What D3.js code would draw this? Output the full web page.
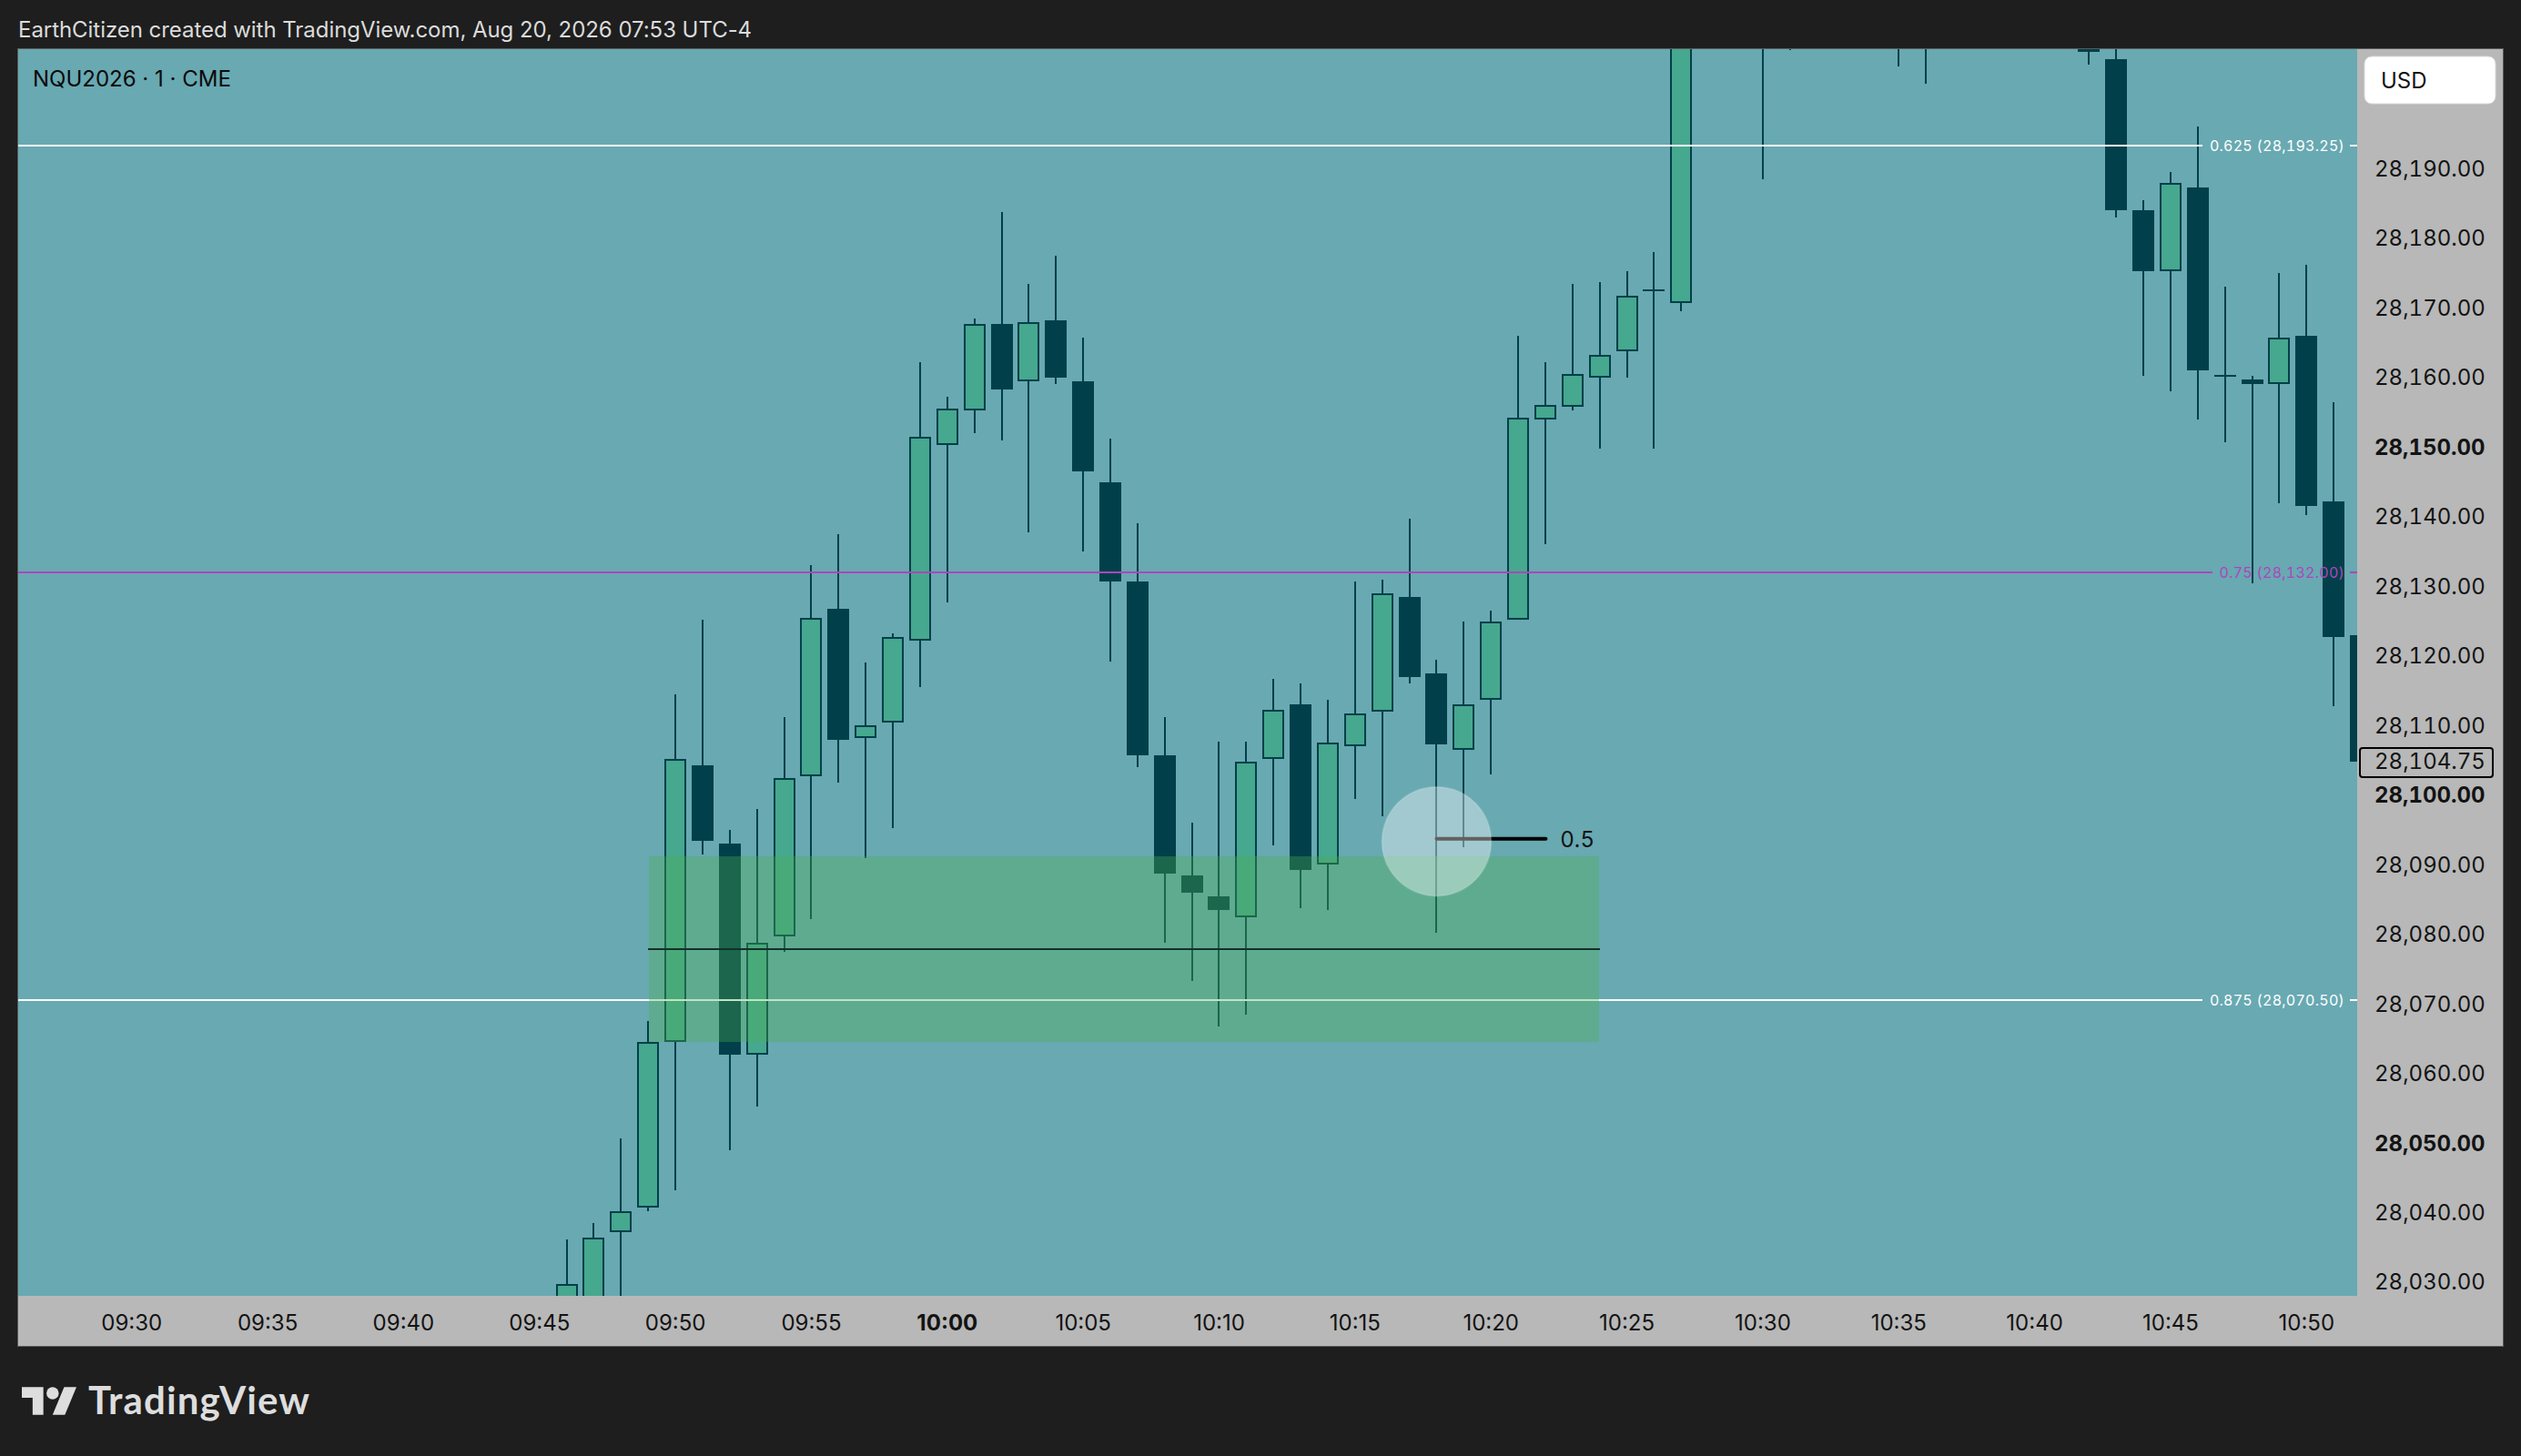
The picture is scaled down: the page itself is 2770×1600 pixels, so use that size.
<!DOCTYPE html>
<html>
<head>
<meta charset="utf-8">
<title>NQU2026 1 CME</title>
<script src="https://cdn.jsdelivr.net/npm/d3@7"></script>
<style>
  html, body { margin: 0; padding: 0; background: #1e1e1e; }
  svg { display: block; font-family: Inter, "Noto Sans", sans-serif; }
  .nums { font-variant-numeric: tabular-nums; }
</style>
</head>
<body>
<svg id="chart" width="2770" height="1600"></svg>
<script>
// one minute bars, 09:46 to 10:52
// bars from 10:13 on run above the top of the pane, their hidden ends are estimates
const barStart = "09:46";
const opens = [
  28022, 28024, 28037.25, 28040.75, 28064.5, 28104.25, 28093, 28062.75, 28079.75, 28102.75,
  28126.75, 28108.25, 28110.5, 28122.25, 28150.25, 28155.25, 28167.75, 28159.5, 28168.25, 28159.5,
  28145, 28130.75, 28105.75, 28088.5, 28085.5, 28082.5, 28105.25, 28113, 28090, 28107,
  28112, 28128.5, 28117.5, 28106.5, 28113.75, 28125.25, 28154, 28155.75, 28160, 28163.75,
  28172.5, 28170.75, 28225, 28228, 28222, 28226, 28231, 28236, 28238, 28233,
  28229, 28227, 28232, 28236, 28234, 28229, 28212, 28205.75, 28184, 28175.25,
  28187.25, 28160.25, 28159.75, 28159, 28166, 28142.25, 28123
];
const closes = [
  28029.75, 28036.5, 28040.25, 28064.5, 28105.25, 28093.5, 28062.75, 28078.75, 28102.5, 28125.5,
  28108, 28110, 28122.75, 28151.5, 28155.5, 28167.75, 28158.25, 28168, 28160, 28146.5,
  28130.75, 28105.75, 28088.75, 28086, 28083.5, 28104.75, 28112.25, 28089.25, 28107.5, 28111.75,
  28129, 28117, 28107.25, 28113, 28125, 28154.25, 28156, 28160.5, 28163.25, 28171.75,
  28172.5, 28225, 28228, 28222, 28226, 28231, 28236, 28238, 28233, 28229,
  28227, 28232, 28236, 28234, 28229, 28212, 28206.75, 28184, 28175.25, 28188,
  28161, 28160.25, 28159, 28165.75, 28141.5, 28122.75, 28104.75
];
const highs = [
  28036.25, 28038.5, 28050.75, 28067.5, 28114.5, 28125.25, 28095, 28098, 28111.25, 28133,
  28137.5, 28119, 28123.25, 28162.25, 28157.25, 28168.5, 28183.75, 28173.5, 28177.5, 28165.75,
  28151.25, 28139, 28111.25, 28096, 28107.75, 28107.75, 28116.75, 28116, 28113.75, 28130.75,
  28131, 28139.75, 28119.5, 28125, 28126.5, 28166, 28162.25, 28173.5, 28173.75, 28175.25,
  28178, 28228, 28232, 28230, 28232, 28236, 28240, 28241, 28238, 28235,
  28233, 28236, 28240, 28238, 28236, 28216, 28214, 28212, 28185.5, 28189.5,
  28196, 28173, 28160.25, 28175, 28176.25, 28156.5, 28123
];
const lows = [
  28019, 28022, 28024, 28040.25, 28043.25, 28091.5, 28049, 28055.25, 28077.5, 28082.25,
  28101.75, 28091, 28095.25, 28115.5, 28127.75, 28152, 28151, 28137.75, 28159, 28135,
  28119.25, 28104, 28078.75, 28073.25, 28066.75, 28068.5, 28092.75, 28083.75, 28083.5, 28099.5,
  28097, 28116, 28080.25, 28092.5, 28103, 28125.25, 28136, 28155.25, 28149.75, 28160,
  28149.75, 28169.5, 28222, 28218, 28188.5, 28207, 28224, 28228, 28226, 28204.75,
  28202.25, 28222, 28226, 28230, 28226, 28210, 28205, 28183, 28160.25, 28158,
  28154, 28150.75, 28130.5, 28142, 28140.25, 28112.75, 28104.75
];

const priceTicks = d3.range(28030, 28191, 10);
const boldPrices = [28050, 28100, 28150];
const timeTicks = [
  "09:30", "09:35", "09:40", "09:45", "09:50", "09:55", "10:00", "10:05", "10:10",
  "10:15", "10:20", "10:25", "10:30", "10:35", "10:40", "10:45", "10:50"
];
const boldTimes = ["10:00"];

const levelRatios = ["0.625", "0.75", "0.875"];
const levelPrices = [28193.25, 28132, 28070.5];
const levelColors = ["#ffffff", "#ab47bc", "#ffffff"];

const zoneTop = 28091.25;
const zoneBottom = 28064.5;
const zoneMid = 28077.875;
const zoneStart = "09:49";
const zoneEnd = "10:24";

const lastPrice = 28104.75;
const pointerTime = "10:18";
const pointerPrice = 28093.75;
const pointerLabel = "0.5";

const toMinutes = s => {
  const p = s.split(":");
  return +p[0] * 60 + +p[1];
};

const plot = { left: 20, right: 2590, top: 54, bottom: 1424 };
const axisRight = 2750;
const axisBottom = 1479;

const x = d3.scaleLinear().domain([565.825, 651.865]).range([plot.left, plot.right]);
const y = d3.scaleLinear().domain([28028.08, 28207.17]).range([plot.bottom, plot.top]);
const priceFormat = d3.format(",.2f");

const up = "#46a88f";
const dark = "#01404a";

const svg = d3.select("#chart");

svg.append("rect").attr("width", 2770).attr("height", 1600).attr("fill", "#1e1e1e");

// axis strips first, pane on top
svg.append("rect")
  .attr("x", plot.left).attr("y", plot.top)
  .attr("width", axisRight - plot.left).attr("height", axisBottom - plot.top)
  .attr("fill", "#b8b8b8");
svg.append("rect")
  .attr("x", plot.left).attr("y", plot.top)
  .attr("width", plot.right - plot.left).attr("height", plot.bottom - plot.top)
  .attr("fill", "#68a9b2");
svg.append("rect")
  .attr("x", plot.left - 0.5).attr("y", plot.top - 0.5)
  .attr("width", axisRight - plot.left + 1).attr("height", axisBottom - plot.top + 1)
  .attr("fill", "none")
  .attr("stroke", "#5a5a5a");

svg.append("clipPath").attr("id", "pane")
  .append("rect")
  .attr("x", plot.left).attr("y", plot.top)
  .attr("width", plot.right - plot.left).attr("height", plot.bottom - plot.top);

const pane = svg.append("g")
  .attr("clip-path", "url(#pane)")
  .attr("shape-rendering", "crispEdges");

const bars = opens.map((o, i) => ({
  minute: toMinutes(barStart) + i,
  open: o,
  close: closes[i],
  high: highs[i],
  low: lows[i]
}));

const barX = d => Math.round(x(d.minute));
const snap = v => Math.round(v);

pane.selectAll("line.wick")
  .data(bars)
  .enter()
  .append("line")
  .attr("class", "wick")
  .attr("x1", barX)
  .attr("x2", barX)
  .attr("y1", d => snap(y(d.high)))
  .attr("y2", d => snap(y(d.low)))
  .attr("stroke", dark)
  .attr("stroke-width", 2);

// doji get a flat tick, the rest a box
const isDoji = d => d.open === d.close;
const isUp = d => d.close > d.open;

pane.selectAll("line.doji")
  .data(bars.filter(isDoji))
  .enter()
  .append("line")
  .attr("class", "doji")
  .attr("x1", d => barX(d) - 12)
  .attr("x2", d => barX(d) + 12)
  .attr("y1", d => snap(y(d.close)))
  .attr("y2", d => snap(y(d.close)))
  .attr("stroke", dark)
  .attr("stroke-width", 2);

pane.selectAll("rect.body")
  .data(bars.filter(d => !isDoji(d)))
  .enter()
  .append("rect")
  .attr("class", "body")
  .attr("x", d => barX(d) - 11)
  .attr("width", 22)
  .attr("y", d => snap(y(Math.max(d.open, d.close))) + 1)
  .attr("height", d => snap(y(Math.min(d.open, d.close))) - snap(y(Math.max(d.open, d.close))) - 2)
  .attr("fill", d => (isUp(d) ? up : dark))
  .attr("stroke", dark)
  .attr("stroke-width", 2);

// fib levels with their labels in a gap at the right end
const levels = svg.append("g");
levelPrices.forEach((p, i) => {
  const yy = Math.round(y(p) - 0.25);
  const label = levels.append("text")
    .attr("class", "nums")
    .attr("x", 2576)
    .attr("y", yy)
    .attr("dy", "0.36em")
    .attr("text-anchor", "end")
    .attr("fill", levelColors[i])
    .style("font-size", "16px")
    .style("letter-spacing", "0.25px")
    .text(`${levelRatios[i]} (${priceFormat(p)})`);
  const start = label.node().getBBox().x;
  [[plot.left, start - 8], [2582, plot.right]].forEach(seg => {
    levels.insert("line", "text")
      .attr("x1", seg[0])
      .attr("x2", seg[1])
      .attr("y1", yy)
      .attr("y2", yy)
      .attr("stroke", levelColors[i])
      .attr("stroke-width", 2)
      .attr("shape-rendering", "crispEdges");
  });
});

// demand zone lies over candles and levels
svg.append("rect")
  .attr("x", x(toMinutes(zoneStart)) + 1)
  .attr("width", x(toMinutes(zoneEnd)) - x(toMinutes(zoneStart)) - 2)
  .attr("y", snap(y(zoneTop)))
  .attr("height", snap(y(zoneBottom)) - snap(y(zoneTop)))
  .attr("fill", "rgb(76,175,80)")
  .attr("fill-opacity", 0.35)
  .attr("shape-rendering", "crispEdges");
svg.append("line")
  .attr("x1", x(toMinutes(zoneStart)))
  .attr("x2", x(toMinutes(zoneEnd)))
  .attr("y1", snap(y(zoneMid)))
  .attr("y2", snap(y(zoneMid)))
  .attr("stroke", "#14302a")
  .attr("stroke-width", 2)
  .attr("shape-rendering", "crispEdges");

// pointer with value tag
const px = x(toMinutes(pointerTime));
svg.append("line")
  .attr("x1", px)
  .attr("x2", px + 120)
  .attr("y1", y(pointerPrice))
  .attr("y2", y(pointerPrice))
  .attr("stroke", "#000")
  .attr("stroke-width", 4)
  .attr("stroke-linecap", "round");
svg.append("text")
  .attr("x", px + 136)
  .attr("y", y(pointerPrice) + 1)
  .attr("dy", "0.36em")
  .attr("fill", "#131313")
  .style("font-size", "24px")
  .style("letter-spacing", "0.6px")
  .text(pointerLabel);
svg.append("circle")
  .attr("cx", px)
  .attr("cy", y(pointerPrice) + 3)
  .attr("r", 60)
  .attr("fill", "#fff")
  .attr("fill-opacity", 0.38)
  .attr("stroke", "#fff")
  .attr("stroke-opacity", 0.15)
  .attr("stroke-width", 2);

// price axis
const yAxis = svg.append("g")
  .attr("transform", `translate(${plot.right + 19},0)`)
  .call(d3.axisRight(y).tickValues(priceTicks).tickSize(0).tickPadding(0).tickFormat(priceFormat));
yAxis.select(".domain").remove();
yAxis.selectAll("text")
  .attr("class", "nums")
  .attr("dy", "0.32em")
  .attr("fill", "#131313")
  .style("font-family", "Inter")
  .style("font-size", "24px")
  .style("font-weight", d => (boldPrices.includes(d) ? 700 : 400));

// last price box
svg.append("rect")
  .attr("x", 2593).attr("y", y(lastPrice) - 15.5)
  .attr("width", 146).attr("height", 32)
  .attr("rx", 3)
  .attr("fill", "#b8b8b8")
  .attr("stroke", "#000")
  .attr("stroke-width", 2);
svg.append("text")
  .attr("class", "nums")
  .attr("x", plot.right + 19)
  .attr("y", y(lastPrice))
  .attr("dy", "0.32em")
  .attr("fill", "#131313")
  .style("font-size", "24px")
  .text(priceFormat(lastPrice));

// time axis
const xAxis = svg.append("g")
  .attr("transform", `translate(-0.5,${plot.bottom})`)
  .call(d3.axisBottom(x).tickValues(timeTicks.map(toMinutes)).tickSize(0).tickPadding(0)
    .tickFormat(m => timeTicks[timeTicks.map(toMinutes).indexOf(m)]));
xAxis.select(".domain").remove();
xAxis.selectAll("text")
  .attr("y", 29)
  .attr("dy", "0.36em")
  .attr("fill", "#131313")
  .style("font-family", "Inter")
  .style("font-size", "24px")
  .style("font-weight", m => (boldTimes.map(toMinutes).includes(m) ? 700 : 400));

// currency button
svg.append("rect")
  .attr("x", 2598).attr("y", 62)
  .attr("width", 144).attr("height", 52)
  .attr("rx", 8)
  .attr("fill", "#fff")
  .attr("stroke", "#d9d9d9");
svg.append("text")
  .attr("x", 2616).attr("y", 88)
  .attr("dy", "0.36em")
  .attr("fill", "#131313")
  .style("font-size", "24px")
  .text("USD");

// header and symbol
svg.append("text")
  .attr("x", 20).attr("y", 32)
  .attr("dy", "0.36em")
  .attr("fill", "#dbdbdb")
  .style("font-size", "24px")
  .style("letter-spacing", "-0.05px")
  .text("EarthCitizen created with TradingView.com, Aug 20, 2026 07:53 UTC-4");
svg.append("text")
  .attr("x", 36).attr("y", 86)
  .attr("dy", "0.36em")
  .attr("fill", "#0a0a0a")
  .style("font-size", "24px")
  .text("NQU2026 · 1 · CME");

// footer logo
const logo = svg.append("g")
  .attr("transform", "translate(24,1517.5) scale(1.69)")
  .attr("fill", "#dddddd");
logo.append("path").attr("d", "M14 22H7V11H0V4h14v18zM28 22h-8l7.5-18h8L28 22z");
logo.append("circle").attr("cx", 20).attr("cy", 8).attr("r", 4);
svg.append("text")
  .attr("x", 97).attr("y", 1554)
  .attr("fill", "#dddddd")
  .style("font-family", "Lato")
  .style("font-size", "42px")
  .style("font-weight", 700)
  .style("letter-spacing", "1.1px")
  .text("TradingView");
</script>
</body>
</html>
